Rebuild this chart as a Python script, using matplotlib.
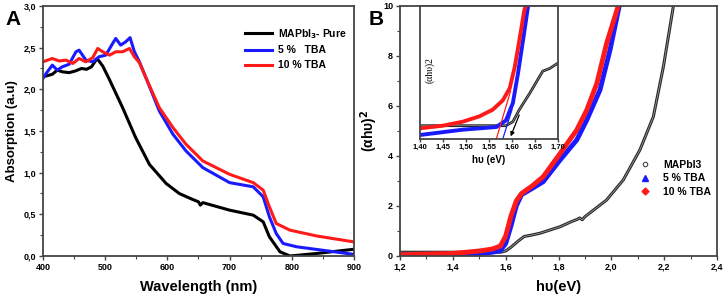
import matplotlib
matplotlib.use("Agg")
import matplotlib.pyplot as plt
from matplotlib.lines import Line2D
from matplotlib.ticker import FuncFormatter, MultipleLocator

plt.rcParams['font.family'] = ['Liberation Sans', 'DejaVu Sans']
plt.rcParams['font.weight'] = 'bold'

# ---------------- Panel A data ----------------
wl_pure = [400, 415, 423, 431, 442, 452, 462, 470, 478, 487, 496, 506, 528, 549, 571, 598, 619,
           640, 650, 653, 657, 700, 738, 754, 764, 781, 797, 840, 899]
abs_pure = [2.15, 2.18, 2.23, 2.21, 2.2, 2.22, 2.25, 2.24, 2.27, 2.37, 2.28, 2.13, 1.78, 1.42, 1.10,
            0.87, 0.75, 0.68, 0.65, 0.61, 0.64, 0.55, 0.49, 0.41, 0.23, 0.05, 0.0, 0.03, 0.08]

wl_5 = [400, 406, 415, 423, 431, 442, 453, 458, 469, 480, 490, 501, 512, 517, 525, 533, 540, 547,
        555, 566, 587, 609, 630, 657, 700, 738, 754, 764, 775, 786, 808, 899]
abs_5 = [2.13, 2.2, 2.29, 2.23, 2.27, 2.3, 2.45, 2.47, 2.35, 2.33, 2.39, 2.41, 2.55, 2.61, 2.53, 2.57,
         2.62, 2.45, 2.33, 2.13, 1.74, 1.46, 1.26, 1.06, 0.88, 0.83, 0.71, 0.47, 0.27,
         0.15, 0.11, 0.02]

wl_10 = [400, 415, 426, 437, 448, 458, 469, 480, 488, 496, 507, 517, 528, 539, 547, 555, 566, 587,
         609, 630, 657, 700, 738, 754, 764, 775, 797, 840, 899]
abs_10 = [2.33, 2.37, 2.34, 2.35, 2.31, 2.37, 2.33, 2.38, 2.49, 2.45, 2.41, 2.45, 2.45, 2.49, 2.39,
          2.32, 2.13, 1.78, 1.54, 1.34, 1.14, 0.98, 0.88, 0.79, 0.59, 0.39, 0.31, 0.24, 0.17]

labels_A = ['MAPbI$_\\mathbf{3}$- Pure', '5 %   TBA', '10 % TBA']

# ---------------- Panel B data ----------------
ev_pure = [1.2, 1.4, 1.5, 1.58, 1.6, 1.62, 1.65, 1.67, 1.7, 1.73, 1.806, 1.85, 1.87, 1.88, 1.89,
           1.9, 1.982, 2.045, 2.108, 2.159, 2.197, 2.235]
ahv_pure = [0.15, 0.15, 0.15, 0.15, 0.2, 0.35, 0.62, 0.78, 0.84, 0.91, 1.17, 1.38, 1.46, 1.52, 1.45,
            1.57, 2.24, 3.04, 4.24, 5.57, 7.57, 10.0]

ev_5 = [1.2, 1.4, 1.5, 1.55, 1.58, 1.6, 1.62, 1.64, 1.66, 1.7, 1.742, 1.806, 1.869, 1.907, 1.957,
        1.995, 2.03]
ahv_5 = [0.05, 0.05, 0.1, 0.15, 0.22, 0.5, 1.2, 2.0, 2.45, 2.7, 2.97, 3.84, 4.64, 5.44, 6.64,
         8.24, 10.0]

ev_10 = [1.2, 1.4, 1.5, 1.55, 1.58, 1.6, 1.62, 1.64, 1.66, 1.7, 1.742, 1.806, 1.869, 1.907, 1.945,
         1.982, 2.026]
ahv_10 = [0.05, 0.1, 0.2, 0.28, 0.4, 0.8, 1.6, 2.2, 2.5, 2.8, 3.17, 4.1, 5.04, 5.84, 6.9,
          8.5, 10.0]

labels_B = ['MAPbI3', '5 % TBA', '10 % TBA']

# inset data (relative units)
ins_ev_10 = [1.40, 1.45, 1.493, 1.529, 1.558, 1.58, 1.595, 1.606, 1.616, 1.627, 1.632]
ins_10 = [0.08, 0.10, 0.13, 0.17, 0.22, 0.29, 0.38, 0.54, 0.74, 0.97, 1.02]
ins_ev_5 = [1.40, 1.493, 1.566, 1.587, 1.602, 1.613, 1.624, 1.636]
ins_5 = [0.03, 0.07, 0.09, 0.14, 0.27, 0.49, 0.74, 1.02]
ins_ev_pure = [1.40, 1.587, 1.602, 1.616, 1.638, 1.667, 1.682, 1.70]
ins_pure = [0.10, 0.10, 0.13, 0.22, 0.34, 0.51, 0.53, 0.57]
tan_10_x = [1.566, 1.597]
tan_10_y = [0.0, 0.36]
tan_5_x = [1.580, 1.600]
tan_5_y = [0.0, 0.22]

RED = '#ff1a1a'
BLUE = '#1a1aff'
SPINE = '#444444'

fig = plt.figure(figsize=(7.26, 2.98), dpi=100)

def style_axes(ax, fs=6.5):
    for s in ax.spines.values():
        s.set_color(SPINE)
        s.set_linewidth(1.3)
    ax.tick_params(which='major', direction='out', length=3, width=1, color=SPINE, labelsize=fs, pad=2)
    ax.tick_params(which='minor', direction='out', length=2, width=0.8, color=SPINE)
    for lab in ax.get_xticklabels() + ax.get_yticklabels():
        lab.set_fontweight('bold')

comma1 = FuncFormatter(lambda v, p: f"{v:.1f}".replace('.', ','))
comma2 = FuncFormatter(lambda v, p: f"{v:.2f}".replace('.', ','))
intfmt = FuncFormatter(lambda v, p: f"{v:.0f}")

# ---------------- Panel A ----------------
axA = fig.add_axes([0.0592, 0.141, 0.4284, 0.839])
axA.plot(wl_pure, abs_pure, color='black', lw=2.2, label=labels_A[0])
axA.plot(wl_5, abs_5, color=BLUE, lw=2.2, label=labels_A[1])
axA.plot(wl_10, abs_10, color=RED, lw=2.2, label=labels_A[2])
axA.set_xlim(400, 900)
axA.set_ylim(0, 3.0)
axA.xaxis.set_major_locator(MultipleLocator(100))
axA.xaxis.set_minor_locator(MultipleLocator(50))
axA.yaxis.set_major_locator(MultipleLocator(0.5))
axA.yaxis.set_minor_locator(MultipleLocator(0.25))
axA.yaxis.set_major_formatter(comma1)
axA.xaxis.set_major_formatter(intfmt)
style_axes(axA)
axA.set_xlabel('Wavelength (nm)', fontsize=10.5, fontweight='bold', labelpad=6)
axA.set_ylabel('Absorption (a.u)', fontsize=9.5, fontweight='bold', labelpad=4)
axA.legend(loc='upper right', bbox_to_anchor=(1.0, 0.945), frameon=False,
           prop={'weight': 'bold', 'size': 7.5}, handlelength=2.6, handletextpad=0.6,
           labelspacing=0.45, borderaxespad=0.3)
fig.text(0.008, 0.965, 'A', fontsize=15, fontweight='bold', va='top', ha='left')

# ---------------- Panel B ----------------
axB = fig.add_axes([0.551, 0.141, 0.4366, 0.839])
axB.plot(ev_pure, ahv_pure, color='#2a2a2a', lw=2.2)
axB.plot(ev_pure, ahv_pure, color='#aaaaaa', lw=0.5)
axB.plot(ev_5, ahv_5, color=BLUE, lw=3.5)
axB.plot(ev_10, ahv_10, color=RED, lw=3.5)
axB.set_xlim(1.2, 2.4)
axB.set_ylim(0, 10)
axB.xaxis.set_major_locator(MultipleLocator(0.2))
axB.xaxis.set_minor_locator(MultipleLocator(0.1))
axB.yaxis.set_major_locator(MultipleLocator(2))
axB.yaxis.set_minor_locator(MultipleLocator(1))
axB.xaxis.set_major_formatter(comma1)
axB.yaxis.set_major_formatter(intfmt)
style_axes(axB)
axB.set_xlabel('h\u03c5(eV)', fontsize=10.5, fontweight='bold', labelpad=6)
axB.set_ylabel('(\u03b1h\u03c5)$^\\mathbf{2}$', fontsize=10, fontweight='bold', labelpad=2)
handles = [Line2D([], [], ls='none', marker='o', mfc='white', mec='#444444', ms=3.2, mew=0.8),
           Line2D([], [], ls='none', marker='^', color=BLUE, ms=4),
           Line2D([], [], ls='none', marker='D', color=RED, ms=3.5)]
axB.legend(handles, labels_B, loc='center right', bbox_to_anchor=(1.01, 0.31), frameon=False,
           prop={'weight': 'bold', 'size': 7.5}, handlelength=1.5, handletextpad=1.0,
           labelspacing=0.35)
fig.text(0.508, 0.965, 'B', fontsize=15, fontweight='bold', va='top', ha='left')

# ---------------- Inset ----------------
axI = fig.add_axes([0.5785, 0.5336, 0.190, 0.4464])
axI.plot(ins_ev_pure, ins_pure, color='#222222', lw=2.0)
axI.plot(ins_ev_pure, ins_pure, color='#999999', lw=0.5)
axI.plot(ins_ev_5, ins_5, color=BLUE, lw=2.8)
axI.plot(ins_ev_10, ins_10, color=RED, lw=2.8)
axI.plot(tan_10_x, tan_10_y, color=RED, lw=0.9)
axI.plot(tan_5_x, tan_5_y, color=BLUE, lw=0.9)
axI.annotate('', xy=(1.595, 0.0), xytext=(1.618, 0.2),
             arrowprops=dict(arrowstyle='-|>', color='black', lw=0.9, mutation_scale=6))
axI.set_xlim(1.40, 1.70)
axI.set_ylim(0, 1.0)
axI.xaxis.set_major_locator(MultipleLocator(0.05))
axI.xaxis.set_major_formatter(comma2)
axI.set_yticks([])
style_axes(axI, fs=5.5)
axI.tick_params(axis='x', length=2, pad=1.5)
axI.set_xlabel('h\u03c5 (eV)', fontsize=7, fontweight='bold', labelpad=3)
axI.text(0.04, 0.52, '(\u03b1h\u03c5)2', rotation=90, transform=axI.transAxes,
         fontsize=7, family=['Liberation Serif', 'DejaVu Serif'], fontweight='normal',
         va='center', ha='left')

fig.savefig('out.png', dpi=100)
